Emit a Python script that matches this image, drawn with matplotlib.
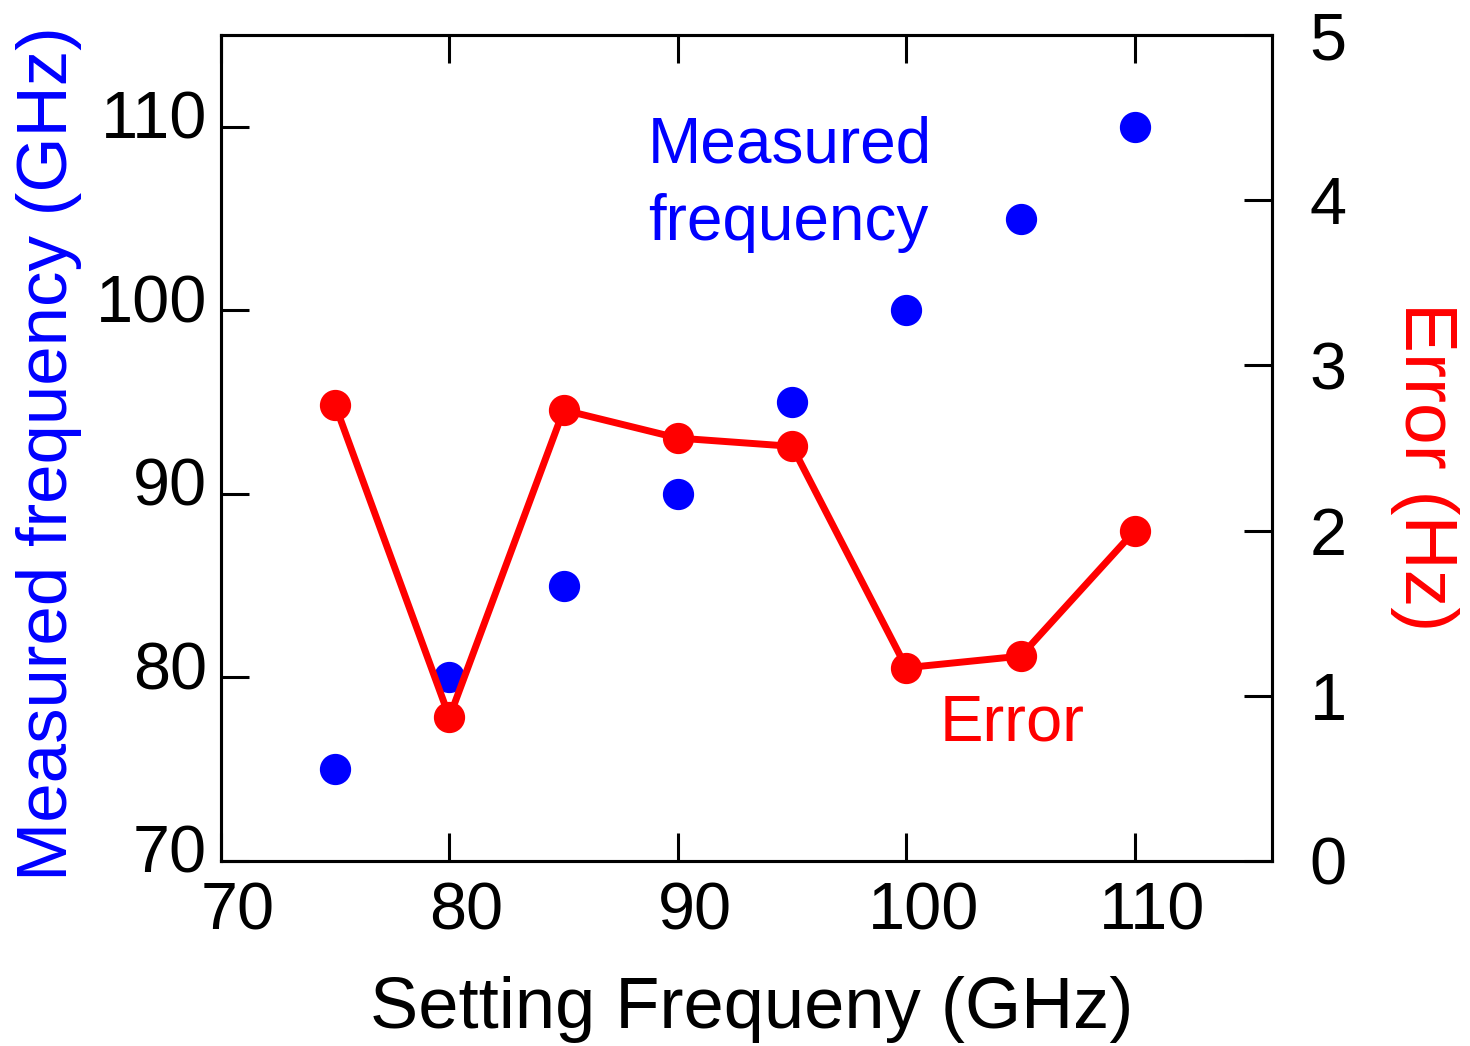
import matplotlib.pyplot as plt
import matplotlib.transforms as mtransforms

plt.rcParams['font.family'] = ['Liberation Sans', 'DejaVu Sans']

# data
setting = [75, 80, 85, 90, 95, 100, 105, 110]
measured = [75, 80, 85, 90, 95, 100, 105, 110]
error_hz = [2.76, 0.87, 2.73, 2.56, 2.51, 1.17, 1.24, 2.00]

x_ticks = [70, 80, 90, 100, 110]
y_ticks = [70, 80, 90, 100, 110]
err_ticks = [0, 1, 2, 3, 4, 5]

note_lines = ["Measured", "frequency"]

BLUE = "#0000ff"
RED = "#ff0000"
FS_TICK = 48
FS_LABEL = 52
FS_NOTE = 46

fig = plt.figure(figsize=(14.7, 10.46), dpi=100)
ax = fig.add_axes([0.1503, 0.1769, 0.7150, 0.7896])
ax2 = ax.twinx()

ax.plot(setting, measured, "o", color=BLUE, markersize=21.5, zorder=3)
ax2.plot(setting, error_hz, "-o", color=RED, lw=5, markersize=21.5, zorder=3)

ax.set_xlim(70, 116)
ax.set_ylim(70, 115)
ax2.set_ylim(0, 5)

ax.set_xticks(x_ticks)
ax.set_yticks(y_ticks)
ax2.set_yticks(err_ticks)

for a in (ax, ax2):
    for s in a.spines.values():
        s.set_linewidth(2.2)

ax.tick_params(axis="x", direction="in", length=20, width=2.2, top=True,
               labelsize=FS_TICK, pad=15)
ax.tick_params(axis="y", direction="in", length=20, width=2.2,
               labelsize=FS_TICK, pad=10)
ax2.tick_params(axis="y", direction="in", length=20, width=2.2,
                labelsize=FS_TICK, pad=27)

# tick labels in the original sit a little off their ticks
dx = mtransforms.ScaledTranslation(0.17, 0, fig.dpi_scale_trans)
for lab in ax.get_xticklabels():
    lab.set_transform(lab.get_transform() + dx)
dy = mtransforms.ScaledTranslation(0, 0.12, fig.dpi_scale_trans)
for lab in ax.get_yticklabels():
    lab.set_transform(lab.get_transform() + dy)

ax.set_xlabel("Setting Frequeny (GHz)", fontsize=FS_LABEL)
ax.xaxis.label.set_va("baseline")
ax.xaxis.set_label_coords(0.505, -0.202)

ax.set_ylabel("Measured frequency (GHz)", fontsize=FS_LABEL - 1, color=BLUE)
ax.yaxis.set_label_coords(-0.132, 0.4927)

ax2.set_ylabel("Error (Hz)", fontsize=FS_LABEL + 2, color=RED, rotation=-90)
ax2.yaxis.set_label_coords(1.178, 0.477)

ax.text(88.7, 108.08, note_lines[0], color=BLUE, fontsize=FS_NOTE,
        ha="left", va="baseline")
ax.text(88.7, 103.83, note_lines[1], color=BLUE, fontsize=FS_NOTE,
        ha="left", va="baseline")
ax2.text(101.45, 0.732, "Error", color=RED, fontsize=FS_NOTE + 1,
         ha="left", va="baseline")

fig.savefig("out.png", dpi=100)
